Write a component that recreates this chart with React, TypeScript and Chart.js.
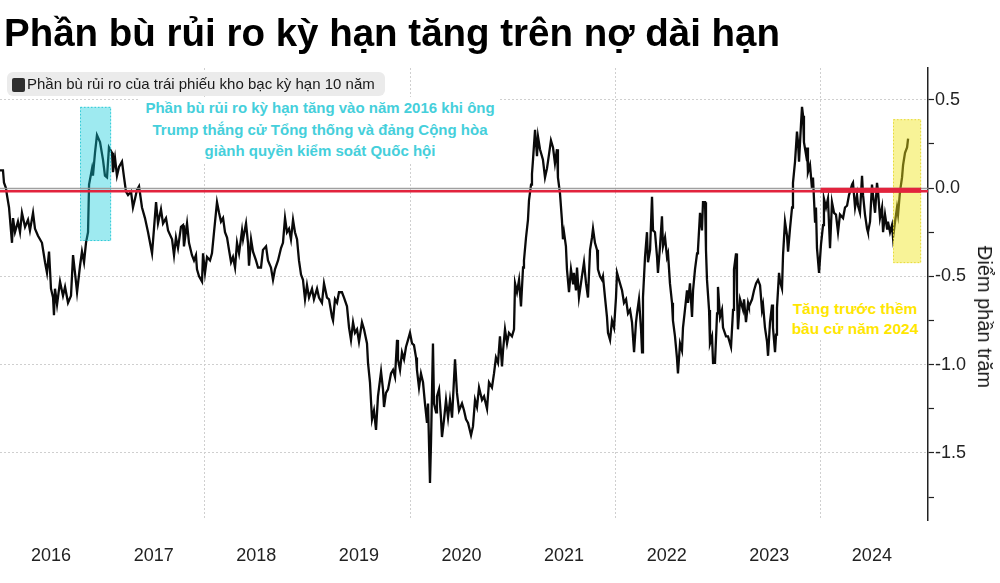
import React, { useEffect, useRef } from "react";
import { Chart, registerables } from "chart.js";

Chart.register(...registerables);

// ---- Data (decimal years / percentage points) ----
const dates = [
  2016.002,2016.031,2016.041,2016.060,2016.070,2016.090,2016.119,2016.129,2016.148,2016.177,
  2016.197,2016.216,2016.246,2016.275,2016.294,2016.324,2016.343,2016.372,2016.411,2016.441,
  2016.460,2016.480,2016.499,2016.519,2016.528,2016.538,2016.558,2016.587,2016.616,2016.636,
  2016.665,2016.694,2016.714,2016.733,2016.753,2016.782,2016.801,2016.821,2016.840,2016.860,
  2016.870,2016.899,2016.908,2016.928,2016.947,2016.977,2017.006,2017.025,2017.045,2017.064,
  2017.094,2017.103,2017.123,2017.142,2017.162,2017.191,2017.211,2017.230,2017.250,2017.279,
  2017.298,2017.318,2017.337,2017.357,2017.386,2017.415,2017.445,2017.484,2017.503,2017.523,
  2017.542,2017.571,2017.591,2017.620,2017.640,2017.679,2017.698,2017.717,2017.737,2017.766,
  2017.786,2017.795,2017.825,2017.844,2017.873,2017.893,2017.912,2017.922,2017.942,2017.971,
  2017.981,2018.000,2018.020,2018.049,2018.068,2018.088,2018.117,2018.137,2018.156,2018.176,
  2018.195,2018.215,2018.234,2018.254,2018.273,2018.293,2018.312,2018.332,2018.361,2018.371,
  2018.400,2018.419,2018.429,2018.449,2018.468,2018.497,2018.517,2018.546,2018.565,2018.595,
  2018.614,2018.643,2018.663,2018.682,2018.712,2018.741,2018.760,2018.780,2018.799,2018.819,
  2018.838,2018.858,2018.877,2018.897,2018.916,2018.936,2018.955,2018.975,2018.994,2019.014,
  2019.043,2019.062,2019.092,2019.111,2019.140,2019.160,2019.189,2019.209,2019.238,2019.248,
  2019.267,2019.287,2019.306,2019.335,2019.355,2019.384,2019.404,2019.423,2019.443,2019.462,
  2019.482,2019.501,2019.530,2019.550,2019.579,2019.589,2019.608,2019.628,2019.647,2019.667,
  2019.686,2019.716,2019.735,2019.745,2019.764,2019.784,2019.813,2019.833,2019.852,2019.872,
  2019.881,2019.901,2019.920,2019.940,2019.959,2019.979,2019.998,2020.018,2020.037,2020.057,
  2020.066,2020.086,2020.105,2020.125,2020.144,2020.164,2020.174,2020.193,2020.203,2020.222,
  2020.232,2020.252,2020.261,2020.281,2020.300,2020.310,2020.330,2020.349,2020.369,2020.388,
  2020.408,2020.437,2020.456,2020.476,2020.505,2020.525,2020.544,2020.564,2020.593,2020.612,
  2020.632,2020.651,2020.671,2020.700,2020.720,2020.749,2020.768,2020.797,2020.817,2020.836,
  2020.856,2020.875,2020.895,2020.905,2020.924,2020.944,2020.963,2020.992,2021.012,2021.022,
  2021.041,2021.061,2021.080,2021.100,2021.109,2021.129,2021.148,2021.158,2021.178,2021.187,
  2021.197,2021.217,2021.236,2021.246,2021.265,2021.294,2021.314,2021.333,2021.343,2021.372,
  2021.392,2021.411,2021.431,2021.440,2021.460,2021.479,2021.489,2021.499,2021.518,2021.528,
  2021.548,2021.567,2021.587,2021.596,2021.616,2021.626,2021.645,2021.674,2021.694,2021.714,
  2021.733,2021.753,2021.772,2021.782,2021.801,2021.821,2021.830,2021.850,2021.869,2021.879,
  2021.899,2021.918,2021.928,2021.948,2021.967,2021.987,2022.006,2022.016,2022.035,2022.065,
  2022.084,2022.104,2022.123,2022.143,2022.162,2022.182,2022.201,2022.211,2022.230,2022.250,
  2022.260,2022.269,2022.289,2022.308,2022.318,2022.338,2022.357,2022.367,2022.386,2022.406,
  2022.415,2022.435,2022.454,2022.464,2022.484,2022.503,2022.513,2022.532,2022.552,2022.561,
  2022.581,2022.600,2022.610,2022.630,2022.649,2022.659,2022.678,2022.698,2022.708,2022.727,
  2022.747,2022.757,2022.776,2022.796,2022.805,2022.825,2022.844,2022.854,2022.874,2022.883,
  2022.893,2022.913,2022.922,2022.942,2022.952,2022.971,2022.991,2023.000,2023.020,2023.039,
  2023.049,2023.078,2023.098,2023.127,2023.147,2023.156,2023.176,2023.185,2023.195,2023.215,
  2023.244,2023.254,2023.273,2023.293,2023.302,2023.332,2023.351,2023.371,2023.390,2023.410,
  2023.429,2023.439,2023.458,2023.478,2023.488,2023.507,2023.527,2023.536,2023.556,2023.566,
  2023.575,2023.595,2023.605,2023.624,2023.634,2023.653,2023.673,2023.683,2023.702,2023.722,
  2023.731,2023.751,2023.770,2023.780,2023.790,2023.809,2023.819,2023.829,2023.838,2023.858,
  2023.868,2023.877,2023.897,2023.916,2023.926,2023.946,2023.955,2023.965,2023.985,2024.004,
  2024.024,2024.033,2024.053,2024.072,2024.092,2024.111,2024.131,2024.150,2024.170,2024.189,
  2024.219,2024.238,2024.258,2024.277,2024.307,2024.316,2024.336,2024.355,2024.365,2024.384,
  2024.404,2024.414,2024.433,2024.453,2024.462,2024.482,2024.501,2024.511,2024.531,2024.550,
  2024.560,2024.579,2024.599,2024.609,2024.628,2024.648,2024.657,2024.677,2024.696,2024.706,
  2024.726,2024.745,2024.755,2024.774,2024.794,2024.804,2024.823,2024.843,2024.853,
];

const termPremium = [
  0.10,0.10,0.03,0.00,-0.04,-0.11,-0.31,-0.17,-0.25,-0.19,
  -0.25,-0.14,-0.22,-0.18,-0.24,-0.14,-0.23,-0.27,-0.31,-0.42,
  -0.48,-0.36,-0.57,-0.62,-0.72,-0.57,-0.66,-0.53,-0.61,-0.56,
  -0.65,-0.61,-0.38,-0.48,-0.59,-0.44,-0.36,-0.42,-0.31,-0.25,
  0.02,0.11,0.07,0.20,0.30,0.26,0.16,0.07,0.06,0.23,
  0.20,0.09,0.17,0.07,0.12,0.15,0.06,-0.02,-0.04,-0.02,
  -0.11,-0.06,-0.01,0.01,-0.11,-0.17,-0.25,-0.37,-0.23,-0.08,
  -0.20,-0.12,-0.20,-0.17,-0.24,-0.29,-0.38,-0.28,-0.34,-0.22,
  -0.21,-0.33,-0.20,-0.31,-0.38,-0.41,-0.38,-0.46,-0.50,-0.53,
  -0.37,-0.48,-0.39,-0.41,-0.37,-0.25,-0.08,-0.14,-0.19,-0.17,
  -0.25,-0.28,-0.35,-0.42,-0.39,-0.45,-0.31,-0.37,-0.24,-0.29,
  -0.20,-0.31,-0.44,-0.29,-0.36,-0.41,-0.45,-0.45,-0.35,-0.33,
  -0.41,-0.45,-0.52,-0.46,-0.41,-0.34,-0.31,-0.17,-0.25,-0.23,
  -0.29,-0.18,-0.25,-0.29,-0.41,-0.49,-0.52,-0.63,-0.55,-0.62,
  -0.57,-0.63,-0.57,-0.62,-0.65,-0.54,-0.62,-0.63,-0.73,-0.75,
  -0.63,-0.65,-0.59,-0.59,-0.62,-0.67,-0.79,-0.86,-0.76,-0.82,
  -0.80,-0.87,-0.76,-0.80,-0.88,-0.99,-1.10,-1.31,-1.26,-1.37,
  -1.18,-1.04,-1.14,-1.24,-1.16,-1.14,-1.05,-1.03,-1.07,-0.86,
  -0.97,-1.03,-0.93,-0.97,-0.90,-0.86,-0.82,-0.88,-0.89,-0.96,
  -1.03,-1.13,-1.05,-1.10,-1.22,-1.33,-1.22,-1.67,-1.44,-0.88,
  -1.22,-1.27,-1.18,-1.14,-1.30,-1.41,-1.31,-1.20,-1.30,-1.20,
  -1.30,-0.97,-1.16,-1.26,-1.22,-1.26,-1.31,-1.33,-1.40,-1.35,
  -1.20,-1.24,-1.13,-1.20,-1.18,-1.25,-1.10,-1.13,-1.05,-0.96,
  -0.99,-0.84,-1.01,-0.92,-0.80,-0.88,-0.82,-0.84,-0.80,-0.54,
  -0.59,-0.52,-0.67,-0.45,-0.41,-0.28,-0.18,-0.07,0.02,0.08,
  0.16,0.33,0.18,0.29,0.22,0.16,0.06,0.11,0.15,0.27,
  0.23,0.14,0.22,0.06,-0.03,-0.18,-0.29,-0.25,-0.33,-0.46,
  -0.59,-0.46,-0.54,-0.48,-0.58,-0.45,-0.62,-0.50,-0.42,-0.54,
  -0.62,-0.35,-0.28,-0.23,-0.31,-0.35,-0.46,-0.50,-0.52,-0.50,
  -0.62,-0.73,-0.82,-0.86,-0.75,-0.79,-0.62,-0.48,-0.52,-0.58,
  -0.65,-0.63,-0.71,-0.69,-0.76,-0.93,-0.76,-0.71,-0.63,-0.80,
  -0.93,-0.62,-0.39,-0.25,-0.42,-0.35,-0.05,-0.24,-0.25,-0.39,
  -0.48,-0.33,-0.16,-0.33,-0.28,-0.39,-0.37,-0.54,-0.65,-0.75,
  -0.84,-0.96,-1.05,-0.88,-0.92,-0.79,-0.69,-0.58,-0.65,-0.54,
  -0.73,-0.58,-0.46,-0.37,-0.35,-0.14,-0.24,-0.08,-0.08,-0.35,
  -0.52,-0.69,-0.88,-0.84,-0.99,-0.99,-0.71,-0.56,-0.73,-0.69,
  -0.79,-0.84,-0.84,-0.90,-0.69,-0.46,-0.37,-0.59,-0.80,-0.63,
  -0.69,-0.63,-0.76,-0.65,-0.67,-0.63,-0.58,-0.54,-0.52,-0.55,
  -0.69,-0.66,-0.79,-0.87,-0.95,-0.76,-0.66,-0.79,-0.93,-0.83,
  -0.68,-0.48,-0.53,-0.57,-0.38,-0.19,-0.27,-0.36,-0.23,-0.11,
  0.03,0.15,0.32,0.26,0.15,0.36,0.46,0.41,0.26,0.19,
  0.23,0.09,0.13,0.00,0.06,-0.19,-0.11,-0.34,-0.48,-0.32,
  -0.21,-0.06,-0.11,-0.06,-0.34,-0.08,-0.14,-0.15,-0.25,-0.15,
  -0.17,-0.11,-0.10,-0.04,0.02,0.03,-0.11,-0.04,-0.10,-0.14,
  0.07,-0.04,-0.15,-0.23,-0.25,-0.19,0.02,-0.04,-0.14,0.03,
  -0.02,-0.17,-0.11,-0.25,-0.15,-0.23,-0.19,-0.25,-0.21,-0.28,
  -0.19,-0.11,-0.15,-0.02,0.06,0.13,0.20,0.23,0.28,
];

const yearLabels = [2016, 2017, 2018, 2019, 2020, 2021, 2022, 2023, 2024];
const xGridYears = [2018, 2020, 2022, 2024];
const yTickValues = [-1.75, -1.5, -1.25, -1, -0.75, -0.5, -0.25, 0, 0.25, 0.5];
const xRange = [2016.002, 2025.047];
const yRange = [-1.88, 0.68];

// highlighted windows: [start, end] in years, [top, bottom] in points
const trumpWindow = [2016.782, 2017.085];
const trumpSpan = [0.46, -0.3];
const electionWindow = [2024.706, 2024.98];
const electionSpan = [0.39, -0.425];
const zeroLevel = 0;
const zeroEmphasis = [2024.0, 2024.98];

const titleText = "Phần bù rủi ro kỳ hạn tăng trên nợ dài hạn";
const legendText = "Phần bù rủi ro của trái phiếu kho bạc kỳ hạn 10 năm";
const trumpNote = [
  "Phần bù rủi ro kỳ hạn tăng vào năm 2016 khi ông",
  "Trump thắng cử Tổng thống và đảng Cộng hòa",
  "giành quyền kiểm soát Quốc hội",
];
const electionNote = ["Tăng trước thềm", "bầu cử năm 2024"];
const yAxisTitle = "Điểm phần trăm";

const FONT = "'Liberation Sans', Arial, sans-serif";

const isMajorY = (v: number) => Math.abs(v * 2 - Math.round(v * 2)) < 1e-6;

const annotationPlugin = {
  id: "termAnnotations",
  afterDatasetsDraw(chart: any) {
    const { ctx, chartArea: a, scales } = chart;
    const xs = scales.x;
    const ys = scales.y;
    const box = (win: number[], span: number[], fill: string, stroke: string) => {
      const x1 = xs.getPixelForValue(win[0]);
      const x2 = xs.getPixelForValue(win[1]);
      const y1 = ys.getPixelForValue(span[0]);
      const y2 = ys.getPixelForValue(span[1]);
      ctx.fillStyle = fill;
      ctx.fillRect(x1, y1, x2 - x1, y2 - y1);
      ctx.setLineDash([1.5, 2]);
      ctx.lineWidth = 1;
      ctx.strokeStyle = stroke;
      ctx.strokeRect(x1 + 0.5, y1 + 0.5, x2 - x1 - 1, y2 - y1 - 1);
      ctx.setLineDash([]);
    };
    ctx.save();
    box(trumpWindow, trumpSpan, "rgba(12,202,217,0.4)", "#2fc9d6");
    box(electionWindow, electionSpan, "rgba(240,228,25,0.45)", "#e6d93a");

    const y0 = ys.getPixelForValue(zeroLevel);
    ctx.beginPath();
    ctx.strokeStyle = "rgba(150,150,150,0.9)";
    ctx.lineWidth = 1.5;
    ctx.moveTo(a.left, y0 + 0.5);
    ctx.lineTo(a.right, y0 + 0.5);
    ctx.stroke();
    ctx.beginPath();
    ctx.strokeStyle = "#e2233d";
    ctx.lineWidth = 2.6;
    ctx.moveTo(a.left, y0 + 3.2);
    ctx.lineTo(a.right, y0 + 3.2);
    ctx.stroke();
    ctx.beginPath();
    ctx.lineWidth = 5;
    ctx.moveTo(xs.getPixelForValue(zeroEmphasis[0]), y0 + 2.2);
    ctx.lineTo(xs.getPixelForValue(zeroEmphasis[1]), y0 + 2.2);
    ctx.stroke();
    ctx.restore();
  },
};

export default function App() {
  const canvasRef = useRef<HTMLCanvasElement>(null);

  useEffect(() => {
    const canvas = canvasRef.current;
    if (!canvas) return;
    const chart = new Chart(canvas, {
      type: "line",
      data: {
        datasets: [
          {
            label: legendText,
            data: dates.map((d, i) => ({ x: d, y: termPremium[i] })),
            borderColor: "#0a0a0a",
            borderWidth: 2.3,
            borderJoinStyle: "miter",
            pointRadius: 0,
            tension: 0,
            fill: false,
          },
        ],
      },
      options: {
        animation: false,
        responsive: false,
        maintainAspectRatio: false,
        events: [],
        layout: { padding: { top: 68, left: 0, right: 0, bottom: 0 } },
        plugins: {
          legend: { display: false },
          title: { display: false },
          tooltip: { enabled: false },
        },
        scales: {
          x: {
            type: "linear",
            min: xRange[0],
            max: xRange[1],
            afterBuildTicks: (scale: any) => {
              const vals = [...xGridYears, ...yearLabels.map((y) => y + 0.5)].sort((p, q) => p - q);
              scale.ticks = vals.map((v) => ({ value: v }));
            },
            afterFit: (scale: any) => {
              scale.height = 63;
            },
            ticks: {
              autoSkip: false,
              maxRotation: 0,
              padding: 25,
              color: "#222",
              font: { family: FONT, size: 18 },
              callback: (v: any) => (Math.abs((v % 1) - 0.5) < 1e-6 ? String(Math.floor(v)) : ""),
            },
            grid: {
              drawTicks: false,
              lineWidth: 1,
              color: (c: any) =>
                c.tick && xGridYears.includes(c.tick.value) ? "#cfcfcf" : "rgba(0,0,0,0)",
            },
            border: { display: false, dash: [2, 2] },
          },
          y: {
            type: "linear",
            position: "right",
            min: yRange[0],
            max: yRange[1],
            afterBuildTicks: (scale: any) => {
              scale.ticks = yTickValues.map((v) => ({ value: v }));
            },
            afterFit: (scale: any) => {
              scale.width = 72;
            },
            ticks: {
              padding: 1,
              color: "#222",
              font: { family: FONT, size: 18 },
              callback: (v: any) => (isMajorY(v) ? Number(v).toFixed(1) : ""),
            },
            grid: {
              drawTicks: true,
              tickLength: 6,
              tickColor: "#222",
              tickWidth: 1.2,
              lineWidth: 1,
              color: (c: any) =>
                c.tick && isMajorY(c.tick.value) && c.tick.value !== 0 ? "#cfcfcf" : "rgba(0,0,0,0)",
            },
            border: { display: true, color: "#222", width: 1.5, dash: [2, 2] },
          },
        },
      },
      plugins: [annotationPlugin],
    } as any);
    return () => chart.destroy();
  }, []);

  return (
    <div
      style={{
        position: "absolute",
        left: 0,
        top: 0,
        width: 1000,
        height: 583,
        background: "#ffffff",
        overflow: "hidden",
      }}
    >
      <canvas
        ref={canvasRef}
        width={1000}
        height={583}
        style={{ position: "absolute", left: 0, top: 0, width: 1000, height: 583 }}
      />
      <div
        style={{
          position: "absolute",
          left: 4,
          top: 14,
          fontFamily: FONT,
          fontWeight: 700,
          fontSize: 38.5,
          lineHeight: 1,
          color: "#000",
          whiteSpace: "nowrap",
        }}
      >
        {titleText}
      </div>
      <div
        style={{
          position: "absolute",
          left: 7,
          top: 72,
          width: 378,
          height: 24,
          background: "#ebebeb",
          borderRadius: 6,
        }}
      >
        <div
          style={{
            position: "absolute",
            left: 5,
            top: 6,
            width: 13,
            height: 14,
            background: "#2e2e2e",
            borderRadius: 2,
          }}
        />
        <div
          style={{
            position: "absolute",
            left: 20,
            top: 0,
            fontFamily: FONT,
            fontSize: 15,
            lineHeight: "24px",
            color: "#1a1a1a",
            whiteSpace: "nowrap",
          }}
        >
          {legendText}
        </div>
      </div>
      <div
        style={{
          position: "absolute",
          left: 140,
          top: 97,
          width: 360,
          background: "#fff",
          textAlign: "center",
          fontFamily: FONT,
          fontWeight: 700,
          fontSize: 15,
          lineHeight: "21.5px",
          color: "#45cfdb",
          whiteSpace: "nowrap",
        }}
      >
        {trumpNote.map((l) => (
          <div key={l}>{l}</div>
        ))}
      </div>
      <div
        style={{
          position: "absolute",
          left: 785,
          top: 299,
          width: 140,
          background: "#fff",
          textAlign: "center",
          fontFamily: FONT,
          fontWeight: 700,
          fontSize: 15.5,
          lineHeight: "20px",
          color: "#ffe600",
          whiteSpace: "nowrap",
        }}
      >
        {electionNote.map((l) => (
          <div key={l}>{l}</div>
        ))}
      </div>
      <div
        style={{
          position: "absolute",
          left: 985,
          top: 317,
          transform: "translate(-50%, -50%) rotate(90deg)",
          fontFamily: FONT,
          fontSize: 20,
          lineHeight: 1,
          color: "#1a1a1a",
          whiteSpace: "nowrap",
        }}
      >
        {yAxisTitle}
      </div>
    </div>
  );
}
